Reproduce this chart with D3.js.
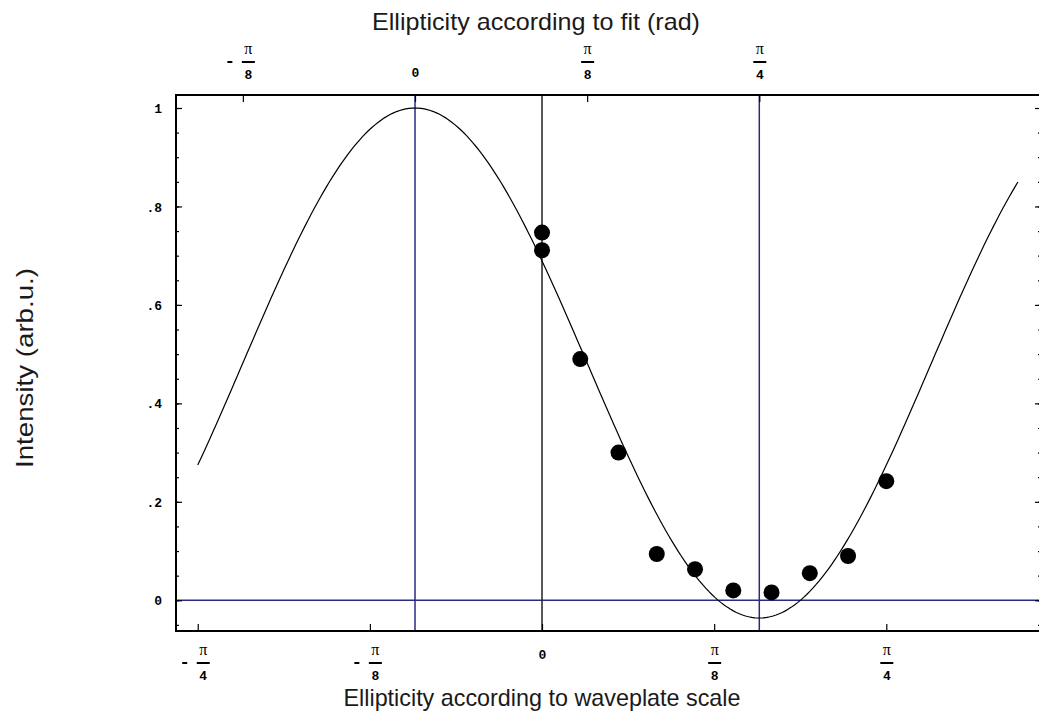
<!DOCTYPE html>
<html>
<head>
<meta charset="utf-8">
<script src="https://cdn.jsdelivr.net/npm/d3@7"></script>
<style>
  html, body { margin: 0; padding: 0; background: #fff; }
  svg { display: block; }
  .tick-lbl { font-family: "Liberation Mono", "DejaVu Sans Mono", monospace; font-weight: bold; font-size: 13px; fill: #000; }
  .pi-lbl { font-family: "Liberation Serif", "DejaVu Serif", serif; font-size: 16px; fill: #000; }
  .title { font-family: "Liberation Sans", Arial, sans-serif; font-size: 24px; fill: #1a1a1a; }
</style>
</head>
<body>
<svg id="chart" width="1039" height="713"></svg>
<script>
// Measured intensity vs. waveplate setting (degrees)
const waveplateDeg = [0, 0, 5, 10, 15, 20, 25, 30, 35, 40, 45];
const intensity    = [0.747, 0.711, 0.490, 0.300, 0.094, 0.063, 0.020, 0.016, 0.055, 0.090, 0.242];

// Fitted model: I = floor + amp * cos^2(2 (x - offset))
const fitOffsetDeg = -16.6;
const fitFloor = -0.036;
const fitAmp = 1.036;
const fitRangeDeg = [-45, 62.4];

// Tick positions in units of pi/8
const bottomTicks = [-2, -1, 0, 1, 2];
const topTicks = [-1, 0, 1, 2];
const yMajorTicks = [0, 0.2, 0.4, 0.6, 0.8, 1];
const yTickLabels = ["0", ".2", ".4", ".6", ".8", "1"];
const yMinorStep = 0.05;

const deg = Math.PI / 180;
const W = 1039, H = 713;
const plot = { left: 176, right: 1041, top: 95, bottom: 631 };

const xLo = -47.84 * deg, xHi = 65.22 * deg;
const x = d3.scaleLinear().domain([xLo, xHi]).range([plot.left, plot.right]);
const xTop = d3.scaleLinear()
  .domain([xLo - fitOffsetDeg * deg, xHi - fitOffsetDeg * deg])
  .range([plot.left, plot.right]);
const y = d3.scaleLinear().domain([-0.0624, 1.0264]).range([plot.bottom, plot.top]);

const svg = d3.select("#chart");
const BLUE = "#2a2a85";

// reference lines: y = 0, fit extremes (blue), scale zero (black)
svg.append("line")
  .attr("x1", plot.left).attr("x2", W).attr("y1", y(0)).attr("y2", y(0))
  .attr("stroke", BLUE).attr("stroke-width", 1.5);
[0, 2].forEach(k => {
  svg.append("line")
    .attr("x1", xTop(k * Math.PI / 8)).attr("x2", xTop(k * Math.PI / 8))
    .attr("y1", plot.top).attr("y2", plot.bottom)
    .attr("stroke", BLUE).attr("stroke-width", 1.5);
});
svg.append("line")
  .attr("x1", x(0)).attr("x2", x(0)).attr("y1", plot.top).attr("y2", plot.bottom)
  .attr("stroke", "#222").attr("stroke-width", 1.5);

// fit curve
const fitX = d3.range(fitRangeDeg[0], fitRangeDeg[1] + 0.001, 0.4).map(d => d * deg);
const fitPts = fitX.map(v => [v, fitFloor + fitAmp * Math.pow(Math.cos(2 * (v - fitOffsetDeg * deg)), 2)]);
svg.append("path")
  .datum(fitPts)
  .attr("fill", "none").attr("stroke", "#000").attr("stroke-width", 1.2)
  .attr("d", d3.line().x(d => x(d[0])).y(d => y(d[1])));

// data points
svg.selectAll("circle.pt")
  .data(waveplateDeg.map((d, i) => ({ x: d * deg, v: intensity[i] })))
  .join("circle").attr("class", "pt")
  .attr("cx", d => x(d.x)).attr("cy", d => y(d.v)).attr("r", 8)
  .attr("fill", "#000");

// axes (ticks pointing inward)
const yMinor = d3.range(-0.05, 1.0001, yMinorStep).map(v => +v.toFixed(2));
const gLeft = svg.append("g").attr("transform", `translate(${plot.left},0)`)
  .call(d3.axisLeft(y).tickValues(yMinor).tickSize(-3).tickFormat(""));
const gLeftMaj = svg.append("g").attr("transform", `translate(${plot.left},0)`)
  .call(d3.axisLeft(y).tickValues(yMajorTicks).tickSize(-6)
    .tickFormat((d, i) => yTickLabels[i]).tickPadding(20));
const gRight = svg.append("g").attr("transform", `translate(${plot.right},0)`)
  .call(d3.axisRight(y).tickValues(yMinor).tickSize(-3).tickFormat(""));
const gRightMaj = svg.append("g").attr("transform", `translate(${plot.right},0)`)
  .call(d3.axisRight(y).tickValues(yMajorTicks).tickSize(-6).tickFormat(""));

const gBottom = svg.append("g").attr("transform", `translate(0,${plot.bottom})`)
  .call(d3.axisBottom(x).tickValues(bottomTicks.map(k => k * Math.PI / 8)).tickSize(-7).tickFormat(""));
const gTop = svg.append("g").attr("transform", `translate(0,${plot.top})`)
  .call(d3.axisTop(xTop).tickValues(topTicks.map(k => k * Math.PI / 8)).tickSize(-7).tickFormat(""));

[gLeft, gLeftMaj, gRight, gRightMaj, gBottom, gTop].forEach(g => {
  g.select(".domain").remove();
  g.selectAll(".tick line").attr("stroke", "#000").attr("stroke-width", 1.2);
});
gLeftMaj.selectAll(".tick text")
  .attr("class", "tick-lbl").attr("text-anchor", "end").attr("x", -14).attr("dy", "0.35em");

// pi-fraction tick labels; zeroY is the baseline of a plain "0" label
function piLabel(g, k, yTop, zeroY) {
  if (k === 0) {
    g.append("text").attr("class", "tick-lbl").attr("text-anchor", "middle")
      .attr("x", 0).attr("y", zeroY).text("0");
    return;
  }
  const a = Math.abs(k);
  const den = a === 1 ? "8" : "4";
  const cx = k < 0 ? 5 : 0;
  g.append("text").attr("class", "pi-lbl").attr("text-anchor", "middle")
    .attr("x", cx).attr("y", yTop + 6).text("π");
  g.append("line").attr("x1", cx - 6.5).attr("x2", cx + 6.5)
    .attr("y1", yTop + 14).attr("y2", yTop + 14).attr("stroke", "#000").attr("stroke-width", 2);
  g.append("text").attr("class", "tick-lbl").attr("text-anchor", "middle")
    .attr("x", cx).attr("y", yTop + 31).text(den);
  if (k < 0) {
    g.append("line").attr("x1", -16).attr("x2", -11)
      .attr("y1", yTop + 14).attr("y2", yTop + 14).attr("stroke", "#000").attr("stroke-width", 2);
  }
}
gBottom.selectAll(".tick").each(function(d, i) {
  piLabel(d3.select(this), bottomTicks[i], 18, 28);
});
gTop.selectAll(".tick").each(function(d, i) {
  piLabel(d3.select(this), topTicks[i], -47, -18);
});

// frame
svg.append("path")
  .attr("d", `M${W + 2},${plot.top}H${plot.left}V${plot.bottom}H${W + 2}`)
  .attr("fill", "none").attr("stroke", "#000").attr("stroke-width", 2);

// titles
svg.append("text").attr("class", "title").attr("text-anchor", "middle")
  .attr("x", 536).attr("y", 30).attr("textLength", 328).attr("lengthAdjust", "spacingAndGlyphs")
  .text("Ellipticity according to fit (rad)");
svg.append("text").attr("class", "title").attr("text-anchor", "middle")
  .attr("x", 542).attr("y", 706).attr("textLength", 397).attr("lengthAdjust", "spacingAndGlyphs")
  .text("Ellipticity according to waveplate scale");
svg.append("text").attr("class", "title").attr("text-anchor", "middle")
  .attr("transform", "translate(33,368) rotate(-90)")
  .attr("textLength", 200).attr("lengthAdjust", "spacingAndGlyphs")
  .text("Intensity (arb.u.)");
</script>
</body>
</html>
